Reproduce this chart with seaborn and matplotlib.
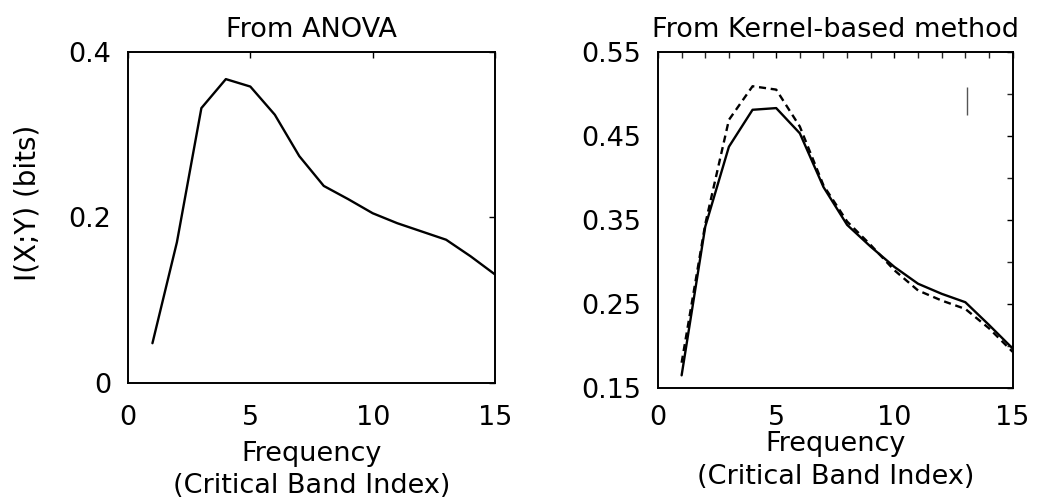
import numpy as np
import pandas as pd
import matplotlib
matplotlib.use("Agg")
import matplotlib.pyplot as plt
import seaborn as sns
from matplotlib.ticker import MultipleLocator

# ---- data ----
band = list(range(1, 16))
anova_mi = [0.048, 0.170, 0.332, 0.367, 0.358, 0.324, 0.274, 0.238, 0.222,
            0.205, 0.193, 0.183, 0.173, 0.153, 0.131]
kernel_solid = [0.165, 0.342, 0.437, 0.481, 0.483, 0.453, 0.389, 0.344, 0.318,
                0.294, 0.274, 0.262, 0.252, 0.225, 0.197]
kernel_dashed = [0.180, 0.345, 0.469, 0.509, 0.505, 0.461, 0.391, 0.348, 0.320,
                 0.290, 0.266, 0.254, 0.244, 0.221, 0.193]
marker_x = [13.05]
marker_y = [0.475, 0.508]

left_yticks = [0, 0.2, 0.4]
left_yticklabels = ["0", "0.2", "0.4"]
right_yticks = [0.15, 0.25, 0.35, 0.45, 0.55]
right_yticklabels = ["0.15", "0.25", "0.35", "0.45", "0.55"]
xticks = [0, 5, 10, 15]

sns.set_style("white")
plt.rcParams['font.family'] = ['DejaVu Sans']
plt.rcParams['text.color'] = 'black'
plt.rcParams['axes.labelcolor'] = 'black'

fig = plt.figure(figsize=(10.37, 4.98), dpi=100)
axL = fig.add_axes([0.1234, 0.231, 0.354, 0.665])
axR = fig.add_axes([0.6345, 0.221, 0.342, 0.675])

dfL = pd.DataFrame({"band": band, "mi": anova_mi})
sns.lineplot(data=dfL, x="band", y="mi", ax=axL, color="black", lw=1.7)

dfR = pd.DataFrame({"band": band + band,
                    "mi": kernel_solid + kernel_dashed,
                    "kind": ["solid"] * 15 + ["dashed"] * 15})
sns.lineplot(data=dfR, x="band", y="mi", style="kind", ax=axR, color="black",
             lw=1.7, dashes={"solid": "", "dashed": (3, 2)}, legend=False)
axR.vlines(marker_x, marker_y[0], marker_y[1], color="#555555", lw=1)

tick_fs = 19.5
lab_fs = 19.5

for ax in (axL, axR):
    ax.set_xlim(0, 15)
    ax.set_xticks(xticks)
    ax.set_xticklabels([str(t) for t in xticks], fontsize=tick_fs)
    for s in ax.spines.values():
        s.set_color("black")
        s.set_linewidth(1.4)
    ax.tick_params(direction="in", top=True, right=True, length=4, width=1,
                   colors="black", labelcolor="black")
    ax.tick_params(axis="y", pad=12)
    ax.tick_params(which="minor", direction="in", top=True, right=True,
                   length=4, width=1)

axL.tick_params(axis="x", pad=16)
axR.tick_params(axis="x", pad=12.5)

axL.set_ylim(0, 0.4)
axL.set_yticks(left_yticks)
axL.set_yticklabels(left_yticklabels, fontsize=tick_fs)
axL.set_title("From ANOVA", fontsize=lab_fs, pad=11)
axL.set_ylabel("I(X;Y) (bits)", fontsize=20)
axL.yaxis.set_label_coords(-0.235, 0.544)
axL.set_xlabel("Frequency\n(Critical Band Index)", fontsize=lab_fs,
               labelpad=7, linespacing=1.3)

axR.set_ylim(0.15, 0.55)
axR.set_yticks(right_yticks)
axR.set_yticklabels(right_yticklabels, fontsize=tick_fs)
axR.yaxis.set_minor_locator(MultipleLocator(0.05))
axR.xaxis.set_minor_locator(MultipleLocator(1))
axR.set_title("From Kernel-based method", fontsize=lab_fs, pad=11)
axR.set_ylabel("")
axR.set_xlabel("Frequency\n(Critical Band Index)", fontsize=lab_fs,
               labelpad=0, linespacing=1.35)

fig.savefig("out.png", dpi=100, facecolor="white")
